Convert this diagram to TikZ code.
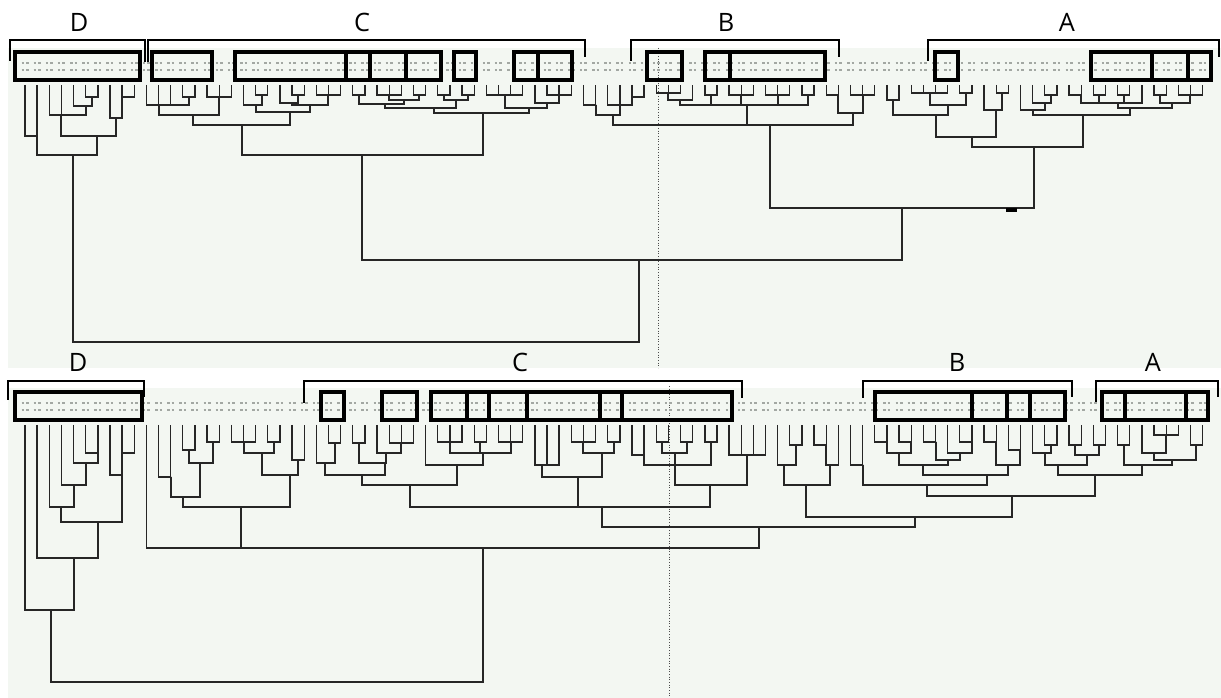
\documentclass[tikz,border=0pt]{standalone}
\usepackage{fontspec}
\setmainfont{Open Sans}
\usepackage{tikz}
\usetikzlibrary{calc}
\definecolor{PaleBack}{HTML}{F3F7F2}
\definecolor{LeafGray}{HTML}{A3A8A3}
\definecolor{TreeInk}{HTML}{262626}
\tikzset{
  branch/.style={draw=TreeInk,line width=1pt,line join=miter},
  grpbox/.style={draw=black,line width=2.5pt},
  bracket/.style={draw=black,line width=2pt,line join=miter},
  taxon/.style={draw=LeafGray,line width=0.9pt},
  cladename/.style={font=\fontsize{19}{20}\selectfont,inner sep=0pt},
  guide/.style={draw=black!70,line width=0.7pt,dash pattern=on 0.8pt off 1.2pt}
}
\newcommand{\mrg}[5]{%
  \coordinate (#4) at (#5,#3);
  \draw[branch] (#1) |- (#4) -| (#2);}
\newcommand{\leafmark}[1]{%
  \draw[taxon] ($(#1)+(-3.5,-22)$) -- ++(2.5,0) ($(#1)+(1,-22)$) -- ++(2.5,0)
               ($(#1)+(-3.5,-15)$) -- ++(2.5,0) ($(#1)+(1,-15)$) -- ++(2.5,0);}

\begin{document}
\begin{tikzpicture}[x=0.75pt,y=-0.75pt]
  \useasboundingbox (0,0) rectangle (1221,698);
  \fill[white] (0,0) rectangle (1221,698);
  \fill[PaleBack] (8,48) rectangle (1221,368);
  \fill[PaleBack] (8,388) rectangle (1221,698);
  \draw[guide] (658,48) -- (658,368);
  \draw[guide] (669,386) -- (669,698);

  \foreach \i in {1,...,98} {
    \coordinate (a\i) at ({25+12.14*(\i-1)},85);
    \coordinate (b\i) at ({25+12.14*(\i-1)},425);
    \leafmark{a\i}
    \leafmark{b\i}
  }

  \foreach \l/\r in {15/140,152/212,235/346,346/370,370/406,406/441,454/476,514/538,538/572,
                     647/682,705/730,730/825,935/958,1091/1152,1152/1188,1188/1211}
    \draw[grpbox] (\l,52) rectangle (\r,80);
  \foreach \l/\r in {15/142,321/344,382/417,431/467,467/489,489/527,527/600,600/622,622/732,
                     875/972,972/1007,1007/1030,1030/1065,1102/1125,1125/1186,1186/1208}
    \draw[grpbox] (\l,392) rectangle (\r,420);

  \draw[bracket] (10,61) -- (10,40) -- (145,40) -- (145,62);
  \draw[bracket] (148,62) -- (148,40) -- (585,40) -- (585,57);
  \draw[bracket] (631,61) -- (631,40) -- (839,40) -- (839,57);
  \draw[bracket] (928,61) -- (928,40) -- (1219,40) -- (1219,57);
  \draw[bracket] (8,400) -- (8,381) -- (144,381) -- (144,397);
  \draw[bracket] (304,403) -- (304,381) -- (742,381) -- (742,398);
  \draw[bracket] (863,398) -- (863,381) -- (1072,381) -- (1072,397);
  \draw[bracket] (1096,402) -- (1096,381) -- (1218,381) -- (1218,397);

  \node[cladename] (topD) at (79,22) {D};
  \node[cladename] (topC) at (362,22) {C};
  \node[cladename] (topB) at (726,22) {B};
  \node[cladename] (topA) at (1067,22) {A};
  \node[cladename] (botD) at (78,362) {D};
  \node[cladename] (botC) at (520,362) {C};
  \node[cladename] (botB) at (957,362) {B};
  \node[cladename] (botA) at (1153,362) {A};

  % upper tree
  \mrg{a6}{a7}{97}{p1}{92}
  \mrg{a5}{p1}{106}{p2}{86}
  \mrg{a3}{a4}{115}{p3a}{61}
  \mrg{p3a}{p2}{115}{p3}{61}
  \mrg{a9}{a10}{97}{p4}{122}
  \mrg{a8}{p4}{118}{p5}{116}
  \mrg{p3}{p5}{136}{p6}{97}
  \mrg{a1}{a2}{136}{p7}{37}
  \mrg{p7}{p6}{155}{p8}{73}
  \mrg{a11}{a12}{105}{p9}{159}
  \mrg{p9}{a13}{105}{p10}{159}
  \mrg{a14}{a15}{97}{p11}{189}
  \mrg{p10}{p11}{105}{p12}{159}
  \mrg{a16}{a17}{97}{p13}{213}
  \mrg{p13}{a18}{97}{p14}{219}
  \mrg{p12}{p14}{115}{p15}{193}
  \mrg{a20}{a21}{95}{p16}{262}
  \mrg{a19}{p16}{105}{p17}{256}
  \mrg{a23}{a24}{95}{p18}{298}
  \mrg{a22}{p18}{103}{p19}{292}
  \mrg{a25}{a26}{95}{p20}{322}
  \mrg{p20}{a27}{95}{p21}{328}
  \mrg{p19}{p21}{105}{p22}{310}
  \mrg{p17}{p22}{112}{p23}{290}
  \mrg{p15}{p23}{125}{p24}{242}
  \mrg{a28}{a29}{95}{p25}{359}
  \mrg{a30}{a31}{95}{p26}{383}
  \mrg{p26}{a32}{95}{p27}{389}
  \mrg{a33}{a34}{95}{p28}{419}
  \mrg{p27}{p28}{100}{p29}{404}
  \mrg{p25}{p29}{104}{p30}{385}
  \mrg{a35}{a36}{95}{p31}{444}
  \mrg{a37}{a38}{95}{p32}{468}
  \mrg{p31}{p32}{100}{p33}{456}
  \mrg{p30}{p33}{108}{p34}{434}
  \mrg{a39}{a40}{95}{p35}{492}
  \mrg{p35}{a41}{95}{p36}{498}
  \mrg{p36}{a42}{95}{p37}{505}
  \mrg{a44}{a45}{95}{p38}{553}
  \mrg{p38}{a46}{95}{p39}{559}
  \mrg{a43}{p39}{103}{p40}{547}
  \mrg{p37}{p40}{108}{p41}{529}
  \mrg{p34}{p41}{113}{p42}{483}
  \mrg{p24}{p42}{155}{p43}{362}
  \mrg{a47}{a48}{105}{p44}{596}
  \mrg{a51}{a52}{97}{p45}{632}
  \mrg{a49}{a50}{105}{p46}{620}
  \mrg{p46}{p45}{105}{p47}{620}
  \mrg{p44}{p47}{115}{p48}{613}
  \mrg{a53}{a54}{93}{p49}{662}
  \mrg{p49}{a55}{93}{p50}{668}
  \mrg{p50}{a56}{100}{p51}{680}
  \mrg{a57}{a58}{95}{p52}{711}
  \mrg{a59}{a60}{95}{p53}{735}
  \mrg{p53}{a61}{95}{p54}{741}
  \mrg{a62}{a63}{95}{p55}{772}
  \mrg{p55}{a64}{95}{p56}{778}
  \mrg{a65}{a66}{95}{p57}{808}
  \mrg{p51}{p52}{105}{p58}{700}
  \mrg{p58}{p54}{105}{p59}{741}
  \mrg{p59}{p56}{105}{p60}{747}
  \mrg{p60}{p57}{105}{p61}{747}
  \mrg{a67}{a68}{95}{p62}{838}
  \mrg{a69}{a70}{95}{p63}{857}
  \mrg{p63}{a71}{95}{p64}{863}
  \mrg{p62}{p64}{113}{p65}{853}
  \mrg{p48}{p61}{125}{p66}{747}
  \mrg{p66}{p65}{125}{p67}{770}
  \mrg{a74}{a75}{93}{p68}{917}
  \mrg{p68}{a76}{93}{p69}{923}
  \mrg{p69}{a77}{93}{p70}{930}
  \mrg{a78}{a79}{93}{p71}{966}
  \mrg{p70}{p71}{105}{p72}{948}
  \mrg{a72}{a73}{100}{p73}{893}
  \mrg{p73}{p72}{115}{p74}{936}
  \mrg{a81}{a82}{93}{p75}{1002}
  \mrg{a80}{p75}{110}{p76}{996}
  \mrg{p74}{p76}{137}{p77}{972}
  \mrg{a85}{a86}{95}{p78}{1051}
  \mrg{a84}{p78}{103}{p79}{1045}
  \mrg{a83}{p79}{110}{p80}{1033}
  \mrg{a87}{a88}{95}{p81}{1081}
  \mrg{a89}{a90}{95}{p82}{1099}
  \mrg{a91}{a92}{95}{p83}{1124}
  \mrg{p81}{p82}{103}{p84}{1093}
  \mrg{p84}{p83}{103}{p85}{1105}
  \mrg{p85}{a93}{103}{p86}{1118}
  \mrg{a94}{a95}{95}{p87}{1160}
  \mrg{a96}{a97}{95}{p88}{1184}
  \mrg{p88}{a98}{95}{p89}{1190}
  \mrg{p87}{p89}{103}{p90}{1172}
  \mrg{p86}{p90}{108}{p91}{1130}
  \mrg{p80}{p91}{115}{p92}{1083}
  \mrg{p77}{p92}{147}{p93}{1034}
  \mrg{p67}{p93}{208}{p94}{902}
  \mrg{p43}{p94}{260}{p95}{639}
  \mrg{p8}{p95}{342}{p96}{360}
  \fill[black] (1006,208) rectangle (1017,212);

  % lower tree
  \mrg{b6}{b7}{453}{q1}{98}
  \mrg{b5}{q1}{463}{q2}{86}
  \mrg{b4}{q2}{485}{q3}{74}
  \mrg{b3}{q3}{507}{q4}{61}
  \mrg{b9}{b10}{453}{q5}{122}
  \mrg{b8}{q5}{475}{q6}{122}
  \mrg{q4}{q6}{522}{q7}{98}
  \mrg{b2}{q7}{558}{q8}{74}
  \mrg{b1}{q8}{610}{q9}{51}
  \mrg{b16}{b17}{442}{q10}{213}
  \mrg{b14}{b15}{450}{q11}{189}
  \mrg{q11}{q10}{463}{q12}{200}
  \mrg{b12}{b13}{477}{q13}{171}
  \mrg{q13}{q12}{497}{q14}{183}
  \mrg{b18}{b19}{442}{q15}{238}
  \mrg{q15}{b20}{442}{q16}{244}
  \mrg{b21}{b22}{442}{q17}{274}
  \mrg{q16}{q17}{453}{q18}{262}
  \mrg{b23}{b24}{460}{q19}{298}
  \mrg{q18}{q19}{475}{q20}{290}
  \mrg{q14}{q20}{507}{q21}{241}
  \mrg{b26}{b27}{443}{q22}{335}
  \mrg{b25}{q22}{463}{q23}{325}
  \mrg{b28}{b29}{443}{q24}{359}
  \mrg{b31}{b32}{443}{q25}{395}
  \mrg{q25}{b33}{443}{q25b}{401}
  \mrg{b30}{q25b}{453}{q26}{386}
  \mrg{q24}{q26}{463}{q27}{385}
  \mrg{q23}{q27}{475}{q28}{362}
  \mrg{b35}{b36}{442}{q29}{444}
  \mrg{q29}{b37}{442}{q30}{450}
  \mrg{b38}{b39}{442}{q31}{480}
  \mrg{b40}{b41}{442}{q32}{504}
  \mrg{q32}{b42}{442}{q32b}{511}
  \mrg{q30}{q31}{453}{q33}{462}
  \mrg{q33}{q32b}{453}{q34}{483}
  \mrg{b34}{q34}{465}{q35}{457}
  \mrg{q28}{q35}{485}{q36}{410}
  \mrg{b43}{b44}{465}{q37}{542}
  \mrg{q37}{b45}{465}{q38}{542}
  \mrg{b46}{b47}{442}{q39}{578}
  \mrg{q39}{b48}{442}{q40}{583}
  \mrg{b49}{b50}{442}{q41}{614}
  \mrg{q40}{q41}{453}{q42}{602}
  \mrg{q38}{q42}{477}{q43}{578}
  \mrg{b51}{b52}{455}{q44}{644}
  \mrg{b53}{b54}{442}{q45}{662}
  \mrg{b55}{b56}{442}{q46}{687}
  \mrg{b57}{b58}{442}{q47}{711}
  \mrg{q45}{q46}{453}{q48}{675}
  \mrg{q44}{q48}{465}{q49}{662}
  \mrg{q49}{q47}{465}{q50}{675}
  \mrg{b59}{b60}{455}{q51}{741}
  \mrg{q51}{b61}{455}{q52}{747}
  \mrg{q52}{b62}{455}{q53}{747}
  \mrg{q50}{q53}{485}{q54}{710}
  \mrg{q36}{q43}{507}{q55}{578}
  \mrg{q55}{q54}{507}{q56}{602}
  \mrg{b64}{b65}{445}{q57}{796}
  \mrg{b63}{q57}{465}{q58}{784}
  \mrg{b66}{b67}{445}{q59}{826}
  \mrg{q59}{b68}{465}{q60}{830}
  \mrg{q58}{q60}{485}{q61}{806}
  \mrg{b69}{b70}{465}{q62}{863}
  \mrg{b71}{b72}{442}{q63}{887}
  \mrg{b73}{b74}{442}{q64}{911}
  \mrg{q63}{q64}{453}{q65}{899}
  \mrg{b75}{b76}{442}{q66}{936}
  \mrg{b78}{b79}{442}{q67}{972}
  \mrg{b77}{q67}{453}{q68}{960}
  \mrg{q66}{q68}{460}{q69}{948}
  \mrg{q65}{q69}{465}{q70}{923}
  \mrg{b80}{b81}{442}{q71}{996}
  \mrg{b82}{b83}{450}{q72}{1020}
  \mrg{q71}{q72}{465}{q73}{1008}
  \mrg{q70}{q73}{475}{q74}{987}
  \mrg{q62}{q74}{485}{q75}{927}
  \mrg{b85}{b86}{445}{q76}{1051}
  \mrg{b84}{q76}{453}{q77}{1045}
  \mrg{b87}{b88}{445}{q78}{1075}
  \mrg{b89}{b90}{445}{q79}{1099}
  \mrg{q78}{q79}{455}{q80}{1087}
  \mrg{b91}{b92}{445}{q81}{1124}
  \mrg{b94}{b95}{435}{q82}{1160}
  \mrg{q82}{b96}{435}{q83}{1166}
  \mrg{b93}{q83}{453}{q84}{1154}
  \mrg{b97}{b98}{445}{q85}{1196}
  \mrg{q84}{q85}{460}{q86}{1172}
  \mrg{q81}{q86}{465}{q87}{1142}
  \mrg{q77}{q80}{465}{q88}{1058}
  \mrg{q88}{q87}{475}{q89}{1095}
  \mrg{q75}{q89}{496}{q90}{1012}
  \mrg{q61}{q90}{517}{q91}{915}
  \mrg{q56}{q91}{527}{q92}{759}
  \mrg{b11}{q21}{548}{q93}{241}
  \mrg{q93}{q92}{548}{q94}{483}
  \mrg{q9}{q94}{682}{q95}{267}
\end{tikzpicture}
\end{document}
